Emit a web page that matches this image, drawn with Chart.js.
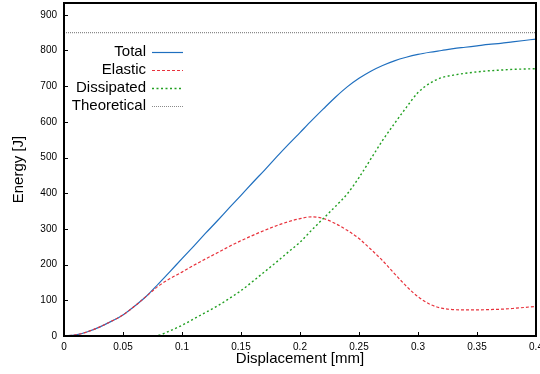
<!DOCTYPE html>
<html>
<head>
<meta charset="utf-8">
<title>Energy vs displacement</title>
<script src="https://cdn.jsdelivr.net/npm/chart.js@4/dist/chart.umd.min.js"></script>
<style>
  html, body { margin: 0; padding: 0; background: #fff; }
  canvas { display: block; }
</style>
</head>
<body>
<canvas id="energyChart" width="540" height="374"></canvas>
<script>
// displacement samples [mm]
const displacement = [0, 0.01, 0.02, 0.03, 0.04, 0.05, 0.06, 0.07, 0.08, 0.09,
  0.10, 0.11, 0.12, 0.13, 0.14, 0.15, 0.16, 0.17, 0.18, 0.19,
  0.20, 0.21, 0.22, 0.23, 0.24, 0.25, 0.26, 0.27, 0.28, 0.29,
  0.30, 0.31, 0.32, 0.33, 0.34, 0.35, 0.36, 0.37, 0.38, 0.39, 0.40];

// energies [J]
const totalEnergy = [0, 3, 12, 25, 41, 59, 84, 112, 146, 181,
  217, 252, 288, 323, 359, 394, 430, 465, 501, 536,
  570, 604, 637, 669, 698, 722, 742, 758, 771, 781,
  789, 795, 800, 805, 809, 813, 817, 820, 824, 828, 832];

const elasticEnergy = [0, 3, 12, 25, 41, 59, 84, 112, 140, 161,
  179, 198, 216, 233, 251, 267, 282, 296, 309, 320,
  329, 334, 329, 315, 296, 273, 243, 211, 175, 140,
  110, 89, 78, 74, 73, 73, 74, 75, 77, 80, 83];

const dissipatedEnergy = [0, 0, 0, 0, 0, 0, 0, 0, 2, 15,
  30, 48, 66, 84, 105, 127, 153, 180, 207, 235,
  263, 297, 330, 363, 398, 444, 496, 548, 595, 640,
  682, 708, 724, 731, 736, 740, 743, 745, 747, 748, 749];

const theoreticalEnergy = 850;

const xTicks = [0, 0.05, 0.1, 0.15, 0.2, 0.25, 0.3, 0.35, 0.4];
const yTicks = [0, 100, 200, 300, 400, 500, 600, 700, 800, 900];

const FONT = '"Liberation Sans", Arial, Helvetica, sans-serif';

function toPoints(ys) {
  return displacement.map((x, i) => ({ x: x, y: ys[i] }));
}

// box around the plot plus short inward tick marks
const frame = {
  id: 'frame',
  afterDraw(chart) {
    const { ctx, chartArea: a, scales: { x, y } } = chart;
    ctx.save();
    ctx.strokeStyle = '#000';
    ctx.lineWidth = 1;
    ctx.beginPath();
    x.ticks.forEach(t => {
      const px = Math.round(x.getPixelForValue(t.value)) + 0.5;
      ctx.moveTo(px, a.bottom);
      ctx.lineTo(px, a.bottom - 4);
    });
    y.ticks.forEach(t => {
      const py = Math.round(y.getPixelForValue(t.value)) + 0.5;
      ctx.moveTo(a.left, py);
      ctx.lineTo(a.left + 4, py);
    });
    ctx.stroke();
    ctx.lineWidth = 2;
    ctx.strokeRect(a.left, a.top, a.right - a.left, a.bottom - a.top);
    ctx.restore();
  }
};

// gnuplot-style key: right aligned label, line sample after it
const key = {
  id: 'key',
  afterDraw(chart) {
    const ctx = chart.ctx;
    ctx.save();
    ctx.font = '15px ' + FONT;
    ctx.textAlign = 'right';
    ctx.textBaseline = 'middle';
    chart.data.datasets.forEach((ds, i) => {
      const yy = 51.5 + i * 18;
      ctx.fillStyle = '#000';
      ctx.fillText(ds.label, 146, yy);
      ctx.strokeStyle = ds.borderColor;
      ctx.lineWidth = ds.borderWidth;
      ctx.setLineDash(ds.borderDash || []);
      ctx.beginPath();
      ctx.moveTo(152, yy + 1);
      ctx.lineTo(183, yy + 1);
      ctx.stroke();
    });
    ctx.restore();
  }
};

new Chart(document.getElementById('energyChart'), {
  type: 'line',
  data: {
    datasets: [
      {
        label: 'Total',
        data: toPoints(totalEnergy),
        borderColor: '#1f6fbf',
        borderWidth: 1.2,
        order: 4
      },
      {
        label: 'Elastic',
        data: toPoints(elasticEnergy),
        borderColor: '#e8323c',
        borderWidth: 1.2,
        borderDash: [3, 2],
        order: 3
      },
      {
        label: 'Dissipated',
        data: toPoints(dissipatedEnergy),
        borderColor: '#22a022',
        borderWidth: 1.4,
        borderDash: [2, 2.5],
        order: 2
      },
      {
        label: 'Theoretical',
        data: [
          { x: displacement[0], y: theoreticalEnergy },
          { x: displacement[displacement.length - 1], y: theoreticalEnergy }
        ],
        borderColor: '#8a8a8a',
        borderWidth: 1.2,
        borderDash: [1, 1],
        order: 1
      }
    ]
  },
  options: {
    responsive: false,
    animation: false,
    events: [],
    layout: { padding: { top: 3, right: 4, left: 0, bottom: 0 } },
    elements: {
      point: { radius: 0 },
      line: { cubicInterpolationMode: 'monotone', fill: false }
    },
    plugins: {
      legend: { display: false },
      tooltip: { enabled: false }
    },
    scales: {
      x: {
        type: 'linear',
        min: 0,
        max: 0.4,
        grid: { display: false, drawTicks: false },
        border: { display: false },
        afterBuildTicks: s => { s.ticks = xTicks.map(v => ({ value: v })); },
        afterFit: s => { s.height = 38; s.paddingLeft = 0; s.paddingRight = 0; },
        ticks: {
          padding: 5,
          color: '#000',
          maxRotation: 0,
          autoSkip: false,
          font: { family: FONT, size: 10 },
          callback: v => String(+v.toFixed(2))
        },
        title: {
          display: true,
          text: 'Displacement [mm]',
          color: '#000',
          font: { family: FONT, size: 15 },
          padding: { top: 0, bottom: 6 }
        }
      },
      y: {
        type: 'linear',
        min: 0,
        max: 933,
        grid: { display: false, drawTicks: false },
        border: { display: false },
        afterBuildTicks: s => { s.ticks = yTicks.map(v => ({ value: v })); },
        afterFit: s => { s.width = 64; s.paddingTop = 0; s.paddingBottom = 0; },
        ticks: {
          padding: 7,
          color: '#000',
          autoSkip: false,
          font: { family: FONT, size: 10 }
        },
        title: {
          display: true,
          text: 'Energy [J]',
          color: '#000',
          font: { family: FONT, size: 15 },
          padding: { top: 10, bottom: 0 }
        }
      }
    }
  },
  plugins: [frame, key]
});
</script>
</body>
</html>
